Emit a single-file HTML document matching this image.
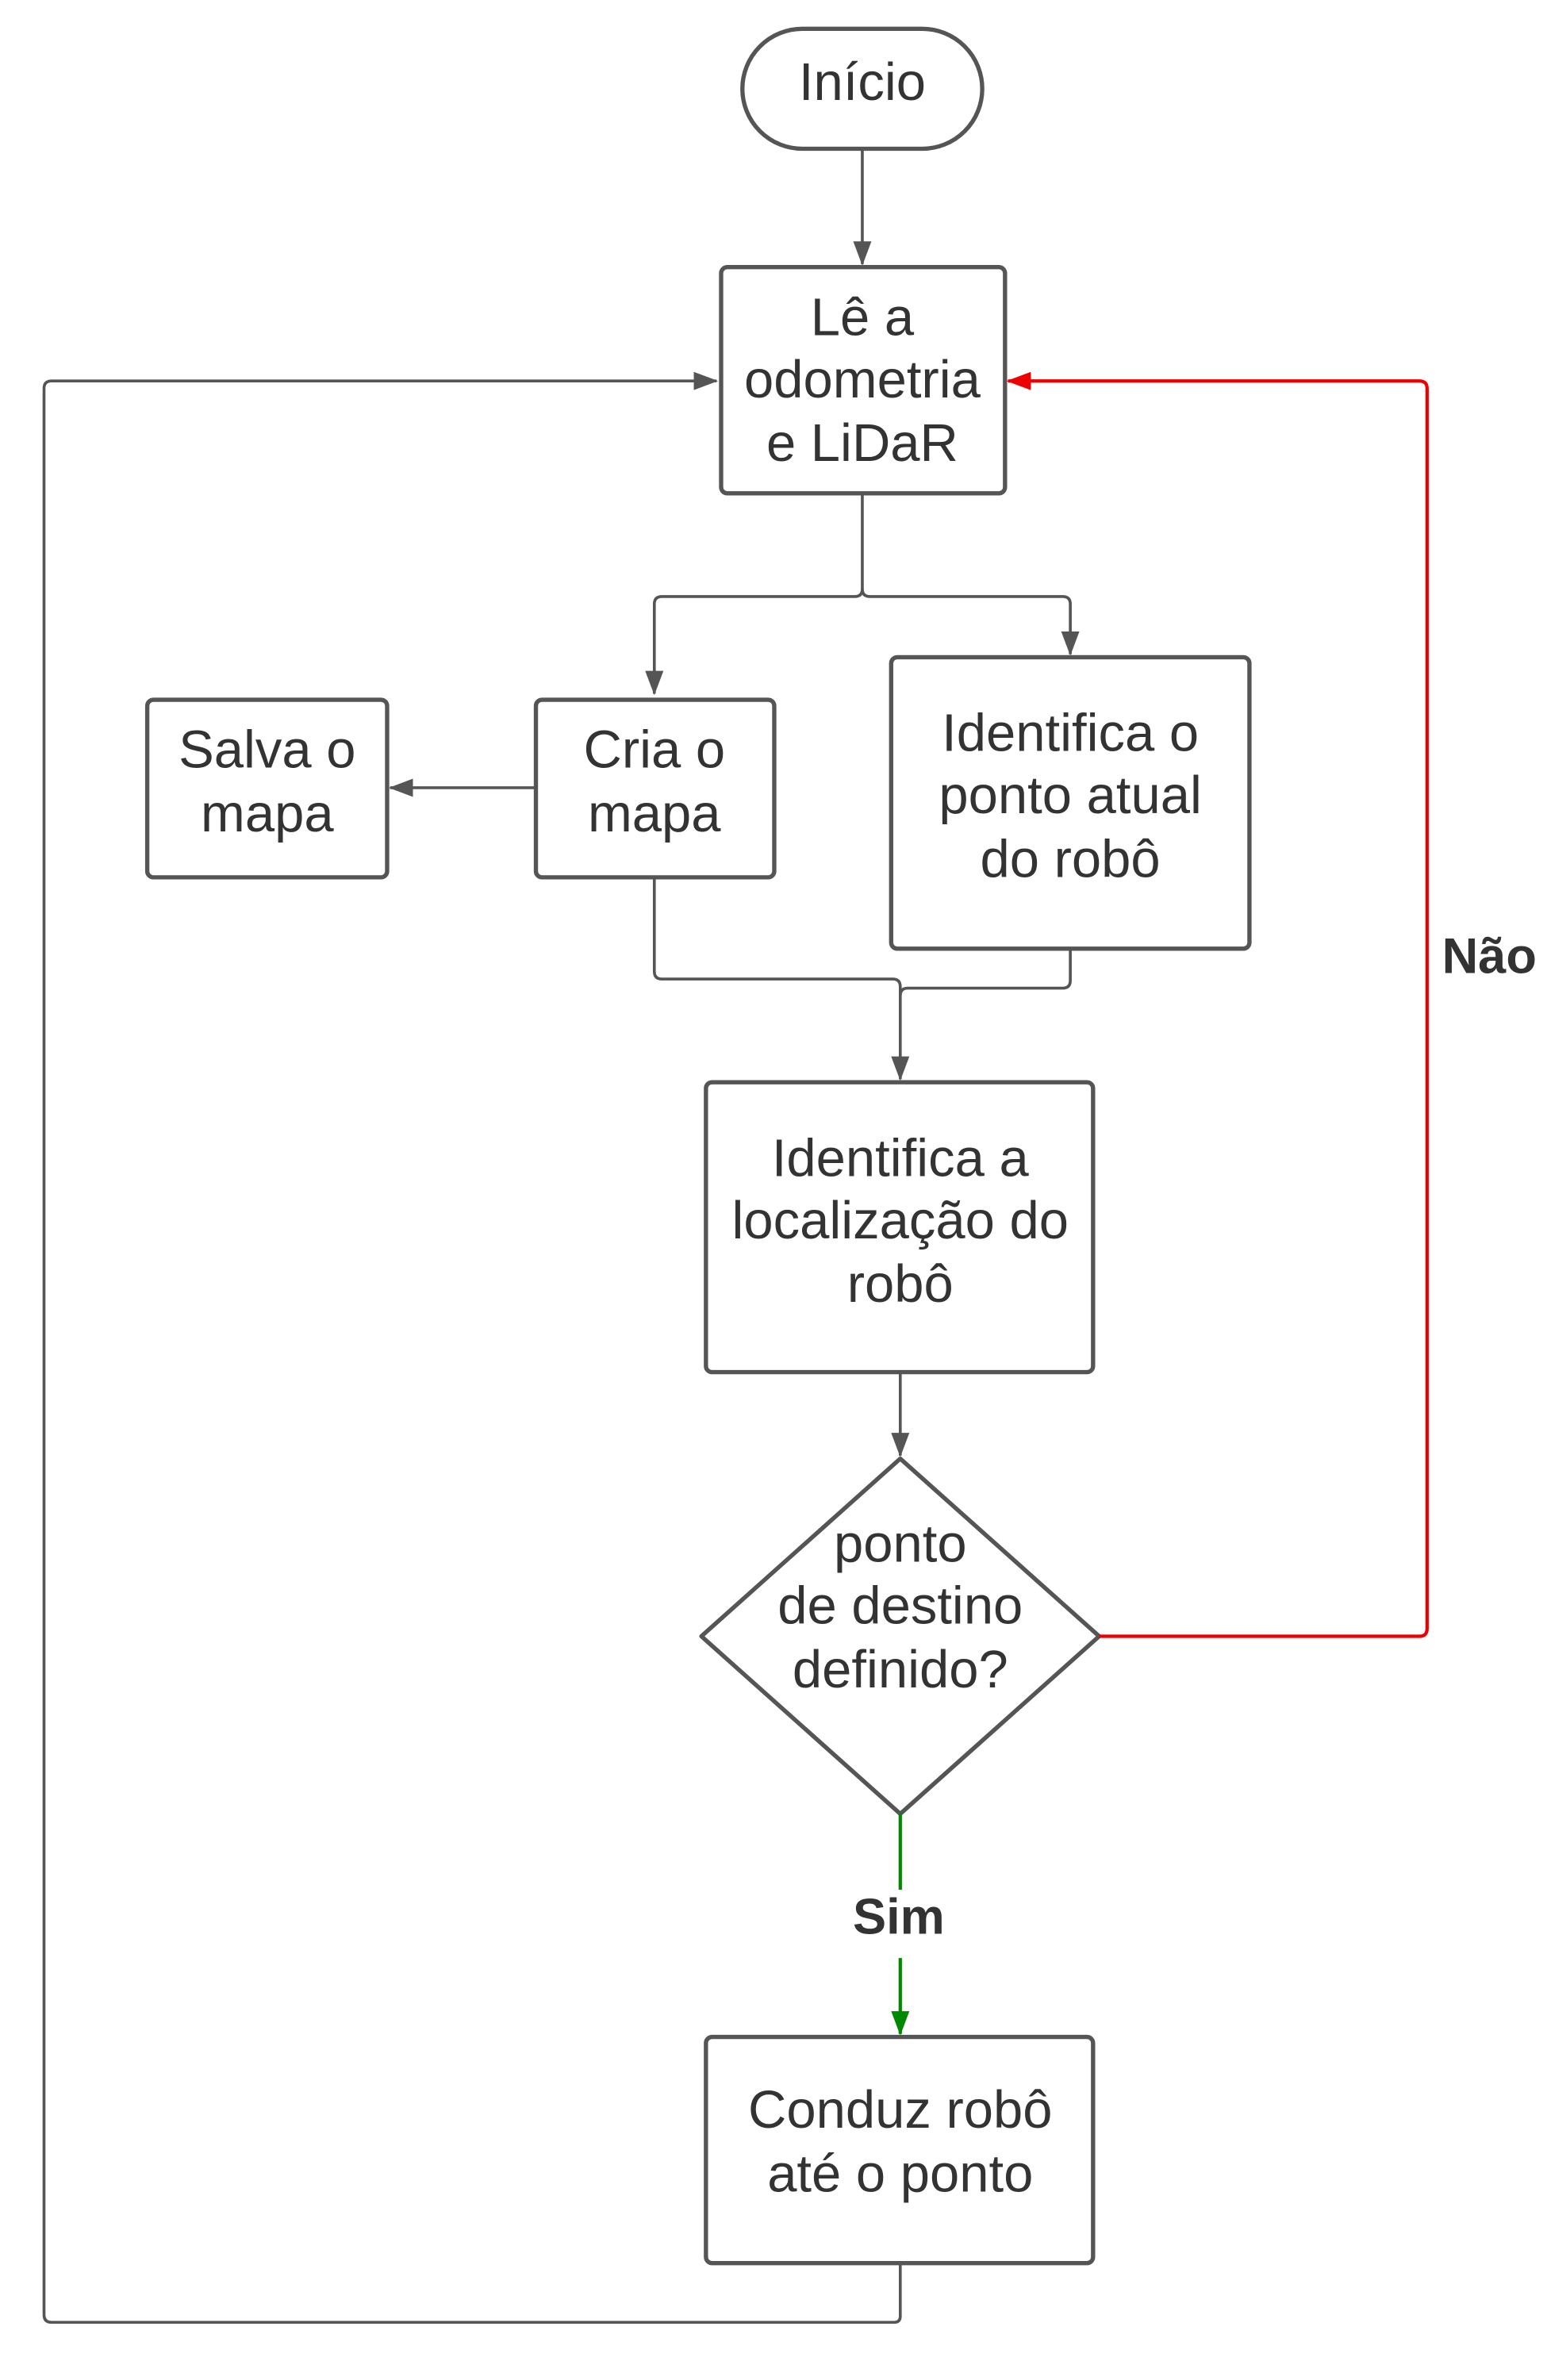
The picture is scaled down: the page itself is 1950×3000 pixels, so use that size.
<!DOCTYPE html>
<html><head><meta charset="utf-8"><style>
html,body{margin:0;padding:0;background:#fff;}
svg{display:block;}
text{font-family:"Liberation Sans",sans-serif;fill:#333;font-size:35px;text-anchor:middle;dominant-baseline:central;}
.b{fill:none;stroke:#555;stroke-width:2.8;}
.l{fill:none;stroke:#555;stroke-width:1.9;}
</style></head><body>
<svg width="1950" height="3000" viewBox="0 0 1019 1568" preserveAspectRatio="none" xmlns="http://www.w3.org/2000/svg">
<defs>
<marker id="ar" markerWidth="16" markerHeight="12" refX="15" refY="6" orient="auto" markerUnits="userSpaceOnUse"><path d="M0,0 L16,6 L0,12z" fill="#e00"/></marker>
<marker id="agr" markerWidth="16" markerHeight="12" refX="15" refY="6" orient="auto" markerUnits="userSpaceOnUse"><path d="M0,0 L16,6 L0,12z" fill="#080"/></marker>
<marker id="a2" markerWidth="16" markerHeight="12" refX="15" refY="6" orient="auto" markerUnits="userSpaceOnUse"><path d="M0,0 L16,6 L0,12z" fill="#555"/></marker>
</defs>
<rect class="b" x="489" y="19" width="158" height="79" rx="39.5"/>
<text x="568" y="54">Início</text>
<path class="l" d="M568,98 V174" marker-end="url(#a2)"/>
<rect class="b" x="475" y="176" width="187" height="149" rx="4"/>
<text x="568" y="209">Lê a</text><text x="568" y="250">odometria</text><text x="568" y="292">e LiDaR</text>
<path class="l" d="M568,325 V388 Q568,393 563,393 H436 Q431,393 431,398 V457" marker-end="url(#a2)"/>
<path class="l" d="M568,388 Q568,393 573,393 H700 Q705,393 705,398 V431" marker-end="url(#a2)"/>
<rect class="b" x="97" y="461" width="158" height="117" rx="4"/>
<text x="176" y="494">Salva o</text><text x="176" y="536">mapa</text>
<rect class="b" x="353" y="461" width="157" height="117" rx="4"/>
<text x="431" y="494">Cria o</text><text x="431" y="536">mapa</text>
<path class="l" d="M353,519 H257" marker-end="url(#a2)"/>
<rect class="b" x="587" y="433" width="236" height="192" rx="4"/>
<text x="705" y="483">Identifica o</text><text x="705" y="524">ponto atual</text><text x="705" y="566">do robô</text>
<path class="l" d="M431,578 V640 Q431,645 436,645 H588 Q593,645 593,650 V711" marker-end="url(#a2)"/>
<path class="l" d="M705,625 V646 Q705,651 700,651 H598 Q593,651 593,656"/>
<rect class="b" x="465" y="713" width="255" height="191" rx="4"/>
<text x="593" y="763">Identifica a</text><text x="593" y="804">localização do</text><text x="593" y="846">robô</text>
<path class="l" d="M593,904 V959" marker-end="url(#a2)"/>
<path class="b" d="M593,961 L724,1078 L593,1195 L462,1078 Z" stroke-linejoin="round"/>
<text x="593" y="1017">ponto</text><text x="593" y="1058">de destino</text><text x="593" y="1100">definido?</text>
<path d="M724,1078 H935 Q940,1078 940,1073 V256 Q940,251 935,251 H664" fill="none" stroke="#e00" stroke-width="2.2" marker-end="url(#ar)"/>
<text x="981" y="630" style="font-weight:bold;font-size:33px">Não</text>
<path d="M593,1195 V1245" fill="none" stroke="#080" stroke-width="2.2"/>
<text x="592" y="1263" style="font-weight:bold;font-size:33px">Sim</text>
<path d="M593,1290 V1340" fill="none" stroke="#080" stroke-width="2.2" marker-end="url(#agr)"/>
<rect class="b" x="465" y="1342" width="255" height="149" rx="4"/>
<text x="593" y="1390">Conduz robô</text><text x="593" y="1432">até o ponto</text>
<path class="l" d="M593,1491 V1526 Q593,1530 589,1530 H34 Q29,1530 29,1525 V256 Q29,251 34,251 H472" marker-end="url(#a2)"/>
</svg>
</body></html>
